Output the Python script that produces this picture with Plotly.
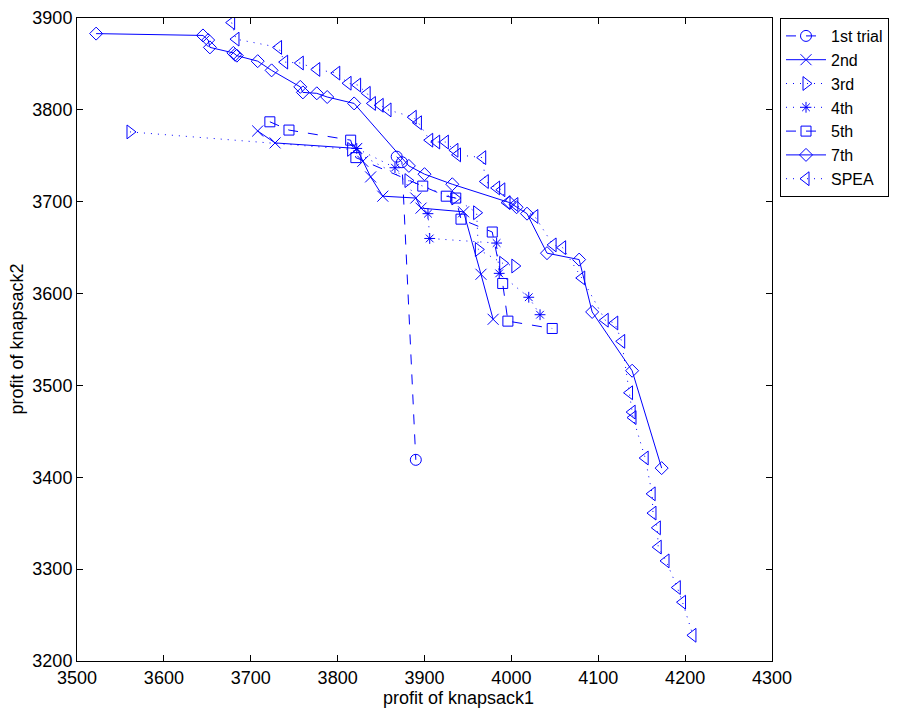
import plotly.graph_objects as go

# ---- data ----
trial1_x = [3868, 3874, 3890]
trial1_y = [3749, 3743, 3419]

trial2_x = [3708, 3728, 3822, 3829, 3838, 3852, 3890, 3896, 3945, 3965, 3979]
trial2_y = [3777, 3764, 3758, 3744, 3727, 3706, 3704, 3693, 3689, 3621, 3572]

trial3_x = [3561, 3815, 3881, 3935, 3960, 3962, 3990, 4004]
trial3_y = [3776, 3757, 3723, 3704, 3688, 3648, 3633, 3630]

trial4_x = [3822, 3866, 3904, 3906, 3983, 3986, 4020, 4033]
trial4_y = [3758, 3737, 3687, 3660, 3655, 3622, 3596, 3577]

trial5_x = [3722, 3744, 3815, 3821, 3898, 3925, 3936, 3942, 3978, 3990, 3996, 4047]
trial5_y = [3787, 3778, 3767, 3748, 3717, 3706, 3704, 3681, 3667, 3611, 3570, 3562]

trial7_x = [3522, 3645, 3651, 3653, 3680, 3682, 3684, 3708, 3724, 3757, 3760, 3776, 3788,
            3819, 3882, 3900, 3932, 3998, 4006, 4018, 4041, 4078, 4093, 4139, 4173]
trial7_y = [3883, 3881, 3876, 3868, 3862, 3860, 3859, 3853, 3843, 3825, 3819, 3818, 3814,
            3807, 3739, 3730, 3719, 3699, 3694, 3687, 3644, 3637, 3580, 3516, 3410]

spea_x = [3678, 3683, 3732, 3739, 3757, 3776, 3799, 3812, 3823, 3834, 3840, 3849, 3858,
          3887, 3893, 3906, 3914, 3924, 3935, 3938, 3967, 3970, 3983, 3989, 3995, 4004,
          4027, 4048, 4059, 4081, 4108, 4119, 4127, 4136, 4139, 4140, 4154, 4162, 4163,
          4168, 4169, 4178, 4191, 4197, 4209]
spea_y = [3895, 3877, 3868, 3852, 3851, 3844, 3840, 3829, 3827, 3818, 3807, 3805, 3800,
          3792, 3786, 3767, 3765, 3765, 3756, 3751, 3748, 3722, 3715, 3713, 3699, 3697,
          3684, 3653, 3650, 3617, 3571, 3568, 3548, 3492, 3471, 3465, 3421, 3382, 3361,
          3345, 3324, 3309, 3280, 3264, 3228]

x_ticks = [3500, 3600, 3700, 3800, 3900, 4000, 4100, 4200, 4300]
y_ticks = [3200, 3300, 3400, 3500, 3600, 3700, 3800, 3900]

BLUE = "#0000ff"
FONT = "Liberation Sans, Arial, Helvetica, sans-serif"
DOT = "1px,6px"
DASH = "10px,10px"

series = [
    ("1st trial", trial1_x, trial1_y, DASH, "circle-open", 11),
    ("2nd", trial2_x, trial2_y, "solid", "x-thin-open", 11),
    ("3rd", trial3_x, trial3_y, DOT, "triangle-right-open", 12),
    ("4th", trial4_x, trial4_y, DOT, "asterisk-open", 9),
    ("5th", trial5_x, trial5_y, DASH, "square-open", 10),
    ("7th", trial7_x, trial7_y, "solid", "diamond-open", 10),
    ("SPEA", spea_x, spea_y, DOT, "triangle-left-open", 12),
]

fig = go.Figure()
for name, xs, ys, dash, sym, size in series:
    fig.add_trace(go.Scatter(
        x=xs, y=ys, name=name, mode="lines+markers",
        line=dict(color=BLUE, width=1, dash=dash),
        marker=dict(symbol=sym, size=size, color=BLUE, line=dict(color=BLUE, width=1)),
    ))

axis_common = dict(
    showgrid=False, zeroline=False, showline=True, linecolor="black", linewidth=1,
    mirror="ticks", ticks="inside", ticklen=6, tickcolor="black", automargin=False,
    tickfont=dict(family=FONT, size=18, color="black"),
)

fig.update_xaxes(range=[3500, 4300], tickvals=x_ticks, ticktext=[str(v) for v in x_ticks],
                 **axis_common)
fig.update_yaxes(range=[3200, 3900], tickvals=y_ticks, ticktext=[str(v) for v in y_ticks],
                 **axis_common)

# plot area in window pixels: x 77..772, y 18..661 (page has an 8px body margin)
fig.add_annotation(text="profit of knapsack1", xref="paper", yref="paper",
                   x=(459 - 77) / 695, y=(661 - 698) / 643, xanchor="center", yanchor="middle",
                   showarrow=False, font=dict(family=FONT, size=18, color="black"))
fig.add_annotation(text="profit of knapsack2", xref="paper", yref="paper",
                   x=(16 - 77) / 695, y=0.5, xanchor="center", yanchor="middle", textangle=-90,
                   showarrow=False, font=dict(family=FONT, size=18, color="black"))

fig.update_layout(
    width=900, height=711,
    margin=dict(l=69, r=136, t=10, b=58, autoexpand=False),
    paper_bgcolor="white", plot_bgcolor="white",
    font=dict(family=FONT, size=18, color="black"),
    legend=dict(x=(780 - 77) / 695, y=1.0, xanchor="left", yanchor="top",
                bordercolor="black", borderwidth=1, bgcolor="white",
                font=dict(family=FONT, size=16, color="black"),
                tracegroupgap=0, itemwidth=40),
    showlegend=True,
)

fig.write_html("out.html")
